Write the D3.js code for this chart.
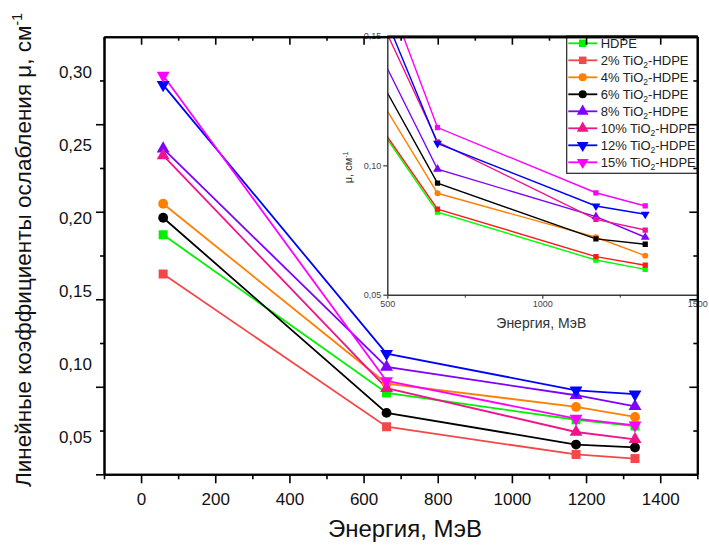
<!DOCTYPE html>
<html>
<head>
<meta charset="utf-8">
<script src="https://cdn.jsdelivr.net/npm/d3@7"></script>
<style>
  body { margin: 0; background: #fff; }
  text { font-family: "Liberation Sans", Arial, sans-serif; }
</style>
</head>
<body>
<div id="chart"></div>
<script>
// energies (keV, labelled MэВ in the figure)
const energies = [59.5, 662, 1173, 1332];
const tio2 = [0, 2, 4, 6, 8, 10, 12, 15];

// main plot values, one array per sample
const muHDPE = [0.1942, 0.0858, 0.0674, 0.0631];
const mu2 = [0.1673, 0.0626, 0.0436, 0.0408];
const mu4 = [0.2155, 0.0922, 0.0762, 0.0693];
const mu6 = [0.2059, 0.0721, 0.0504, 0.0484];
const mu8 = [0.2532, 0.1036, 0.0842, 0.0766];
const mu10 = [0.2486, 0.0890, 0.0590, 0.0540];
const mu12 = [0.2970, 0.1127, 0.0876, 0.0849];
const mu15 = [0.3034, 0.0940, 0.0682, 0.0636];

// inset values
const inHDPE = [0.1868, 0.0819, 0.0634, 0.0598];
const in2 = [0.1872, 0.0831, 0.0647, 0.0614];
const in4 = [0.2078, 0.0892, 0.0722, 0.0651];
const in6 = [0.2233, 0.0931, 0.0716, 0.0695];
const in8 = [0.2435, 0.0985, 0.0802, 0.0722];
const in10 = [0.2640, 0.1091, 0.0791, 0.0750];
const in12 = [0.2830, 0.1085, 0.0843, 0.0811];
const in15 = [0.3070, 0.1146, 0.0894, 0.0843];

const yLabels = [0.05, 0.10, 0.15, 0.20, 0.25, 0.30];

const mainVals = [muHDPE, mu2, mu4, mu6, mu8, mu10, mu12, mu15];
const insetVals = [inHDPE, in2, in4, in6, in8, in10, in12, in15];
const colors = ["#00f000", "#f44848", "#ff8000", "#000000", "#8000ff", "#f0148c", "#0000ff", "#ff00ff"];
const insetColors = ["#00ff00", "#ff1a1a", "#ff8000", "#000000", "#8000ff", "#f0148c", "#0000ff", "#ff00ff"];
const shapes = ["square", "square", "circle", "circle", "up", "up", "down", "down"];
const insetShapes = ["square", "square", "circle", "square", "up", "square", "down", "square"];

const width = 709, height = 545;
const svg = d3.select("#chart").append("svg")
    .attr("width", width).attr("height", height);

const fmt = (v) => d3.format(".2f")(v).replace(".", ",");

const symbolPath = (shape, size) => {
    if (shape === "square") return d3.symbol(d3.symbolSquare, size)();
    if (shape === "circle") return d3.symbol(d3.symbolCircle, size)();
    return d3.symbol(d3.symbolTriangle, size)();
};
const symbolRot = (shape) => shape === "down" ? " rotate(180)" : "";

// ---------- main plot ----------
const x = d3.scaleLinear().domain([-100, 1500]).range([104, 697.3]);
const y = d3.scaleLinear().domain([0.03, 0.33]).range([474.3, 36.7]);

const main = svg.append("g");

mainVals.forEach((vals, i) => {
    const pts = energies.map((e, k) => [e, vals[k]]);
    main.append("path")
        .attr("d", d3.line().x(d => x(d[0])).y(d => y(d[1]))(pts))
        .style("fill", "none")
        .style("stroke", colors[i])
        .style("stroke-width", 1.8);
});
mainVals.forEach((vals, i) => {
    main.selectAll(null)
        .data(energies.map((e, k) => [e, vals[k]]))
        .enter()
        .append("path")
        .attr("d", symbolPath(shapes[i], shapes[i] === "square" ? 81 : (shapes[i] === "circle" ? 76 : 72)))
        .attr("transform", d => "translate(" + x(d[0]) + "," + y(d[1]) + ")" + symbolRot(shapes[i]))
        .style("fill", colors[i]);
});

// ---------- inset ----------
const xi = d3.scaleLinear().domain([500, 1500]).range([387.3, 697.3]);
const yi = d3.scaleLinear().domain([0.05, 0.15]).range([294.7, 36]);

const inset = svg.append("g");
inset.append("rect")
    .attr("x", xi(500)).attr("y", yi(0.15))
    .attr("width", xi(1500) - xi(500)).attr("height", yi(0.05) - yi(0.15))
    .style("fill", "#fff");

svg.append("clipPath").attr("id", "insetClip")
    .append("rect")
    .attr("x", xi(500)).attr("y", yi(0.15))
    .attr("width", xi(1500) - xi(500)).attr("height", yi(0.05) - yi(0.15));

const insetData = inset.append("g").attr("clip-path", "url(#insetClip)");
insetVals.forEach((vals, i) => {
    const pts = energies.map((e, k) => [e, vals[k]]);
    insetData.append("path")
        .attr("d", d3.line().x(d => xi(d[0])).y(d => yi(d[1]))(pts))
        .style("fill", "none")
        .style("stroke", insetColors[i])
        .style("stroke-width", 1.4);
});
insetVals.forEach((vals, i) => {
    insetData.selectAll(null)
        .data(energies.map((e, k) => [e, vals[k]]))
        .enter()
        .append("path")
        .attr("d", symbolPath(insetShapes[i], insetShapes[i] === "up" || insetShapes[i] === "down" ? 34 : 28))
        .attr("transform", d => "translate(" + xi(d[0]) + "," + yi(d[1]) + ")" + symbolRot(insetShapes[i]))
        .style("fill", insetColors[i]);
});

// inset axes
const insetAxisColor = "#3a3a3a";
const iLeft = inset.append("g")
    .attr("transform", "translate(" + xi(500) + ",0)")
    .call(d3.axisLeft(yi).tickValues([0.05, 0.10, 0.15]).tickSize(4).tickSizeOuter(0).tickPadding(2).tickFormat(fmt));
const iBottom = inset.append("g")
    .attr("transform", "translate(0," + yi(0.05) + ")")
    .call(d3.axisBottom(xi).tickValues([500, 1000, 1500]).tickSize(4).tickSizeOuter(0).tickPadding(2).tickFormat(d3.format("d")));
inset.append("g")
    .attr("transform", "translate(0," + yi(0.05) + ")")
    .call(d3.axisBottom(xi).tickValues([750, 1250]).tickSize(3).tickFormat(""))
    .select(".domain").remove();
[iLeft, iBottom].forEach(g => {
    g.select(".domain").style("stroke", insetAxisColor).style("stroke-width", 1.5);
    g.selectAll(".tick line").style("stroke", insetAxisColor).style("stroke-width", 1.2);
    g.selectAll(".tick text").style("font-size", "9px").style("fill", "#444").style("font-family", "Liberation Sans, Arial, sans-serif");
});
inset.selectAll(".tick line").style("stroke", insetAxisColor);
inset.append("line")
    .attr("x1", xi(500)).attr("x2", xi(1500)).attr("y1", yi(0.15)).attr("y2", yi(0.15))
    .style("stroke", insetAxisColor).style("stroke-width", 1.5);

inset.append("text")
    .attr("transform", "translate(352," + ((yi(0.05) + yi(0.15)) / 2 + 2) + ") rotate(-90)")
    .attr("text-anchor", "middle")
    .style("font-size", "11px").style("fill", "#333")
    .call(t => {
        t.append("tspan").text("μ, см");
        t.append("tspan").attr("dy", -4).style("font-size", "7px").text("-1");
    });
inset.append("text")
    .attr("x", (xi(500) + xi(1500)) / 2 - 1)
    .attr("y", 328)
    .attr("text-anchor", "middle")
    .style("font-size", "14px").style("fill", "#333")
    .text("Энергия, МэВ");

// legend
const legend = inset.append("g");
legend.append("rect")
    .attr("x", 566.7).attr("y", 36).attr("width", 130.6).attr("height", 137.3)
    .style("fill", "#fff").style("stroke", "#222").style("stroke-width", 1.2);
tio2.forEach((p, i) => {
    const ly = 43.3 + i * 17;
    const row = legend.append("g").attr("transform", "translate(0," + ly + ")");
    row.append("line")
        .attr("x1", 568.3).attr("x2", 597.3)
        .style("stroke", colors[i]).style("stroke-width", 1.8);
    row.append("path")
        .attr("d", symbolPath(shapes[i], shapes[i] === "square" ? 56 : (shapes[i] === "circle" ? 52 : 60)))
        .attr("transform", "translate(582.7,0)" + symbolRot(shapes[i]))
        .style("fill", colors[i]);
    const t = row.append("text")
        .attr("x", 600.7).attr("y", 4.8)
        .style("font-size", "13px").style("fill", "#222");
    if (p === 0) {
        t.text("HDPE");
    } else {
        t.append("tspan").text(p + "% TiO");
        t.append("tspan").attr("dy", 3).style("font-size", "8.5px").text("2");
        t.append("tspan").attr("dy", -3).text("-HDPE");
    }
});

// ---------- main frame and axes (on top) ----------
const frame = svg.append("g");
const styleAxis = (g) => {
    g.select(".domain").style("stroke", "#000").style("stroke-width", 2);
    g.selectAll(".tick line").style("stroke", "#000").style("stroke-width", 1.6);
    g.selectAll(".tick text").style("font-size", "17px").style("fill", "#111")
        .style("font-family", "Liberation Sans, Arial, sans-serif");
};
const xMajor = d3.range(0, 1401, 200);
const xMinor = d3.range(-100, 1501, 200);
const yMajor = d3.range(0.03, 0.30, 0.06);
const yMinor = d3.range(0.06, 0.31, 0.06);

// bottom
frame.append("g").attr("transform", "translate(0," + y(0.03) + ")")
    .call(d3.axisBottom(x).tickValues(xMajor).tickSize(9).tickSizeOuter(0).tickPadding(10).tickFormat(d3.format("d")))
    .call(styleAxis);
frame.append("g").attr("transform", "translate(0," + y(0.03) + ")")
    .call(d3.axisBottom(x).tickValues(xMinor).tickSize(5).tickSizeOuter(0).tickFormat(""))
    .call(styleAxis);
// top (ticks inward)
frame.append("g").attr("transform", "translate(0," + y(0.33) + ")")
    .call(d3.axisTop(x).tickValues(xMajor).tickSize(-8).tickSizeOuter(0).tickFormat(""))
    .call(styleAxis);
frame.append("g").attr("transform", "translate(0," + y(0.33) + ")")
    .call(d3.axisTop(x).tickValues(xMinor).tickSize(-4).tickSizeOuter(0).tickFormat(""))
    .call(styleAxis);
// left
frame.append("g").attr("transform", "translate(" + x(-100) + ",0)")
    .call(d3.axisLeft(y).tickValues(yMajor).tickSize(8).tickSizeOuter(0).tickFormat(""))
    .call(styleAxis);
frame.append("g").attr("transform", "translate(" + x(-100) + ",0)")
    .call(d3.axisLeft(y).tickValues(yMinor).tickSize(4).tickSizeOuter(0).tickFormat(""))
    .call(styleAxis);
// right (ticks inward)
frame.append("g").attr("transform", "translate(" + x(1500) + ",0)")
    .call(d3.axisRight(y).tickValues(yMajor).tickSize(-8).tickSizeOuter(0).tickFormat(""))
    .call(styleAxis);
frame.append("g").attr("transform", "translate(" + x(1500) + ",0)")
    .call(d3.axisRight(y).tickValues(yMinor).tickSize(-4).tickSizeOuter(0).tickFormat(""))
    .call(styleAxis);

// y tick labels
frame.selectAll(".ylab")
    .data(yLabels)
    .enter()
    .append("text")
    .attr("class", "ylab")
    .attr("x", 92)
    .attr("y", d => y(d) - 8)
    .attr("dy", "0.35em")
    .attr("text-anchor", "end")
    .style("font-size", "17px").style("fill", "#111")
    .text(fmt);

// axis titles
svg.append("text")
    .attr("x", 405).attr("y", 537)
    .attr("text-anchor", "middle")
    .style("font-size", "24px").style("fill", "#111")
    .text("Энергия, МэВ");

svg.append("text")
    .attr("transform", "translate(31,250) rotate(-90)")
    .attr("text-anchor", "middle")
    .style("font-size", "22.5px").style("fill", "#111")
    .call(t => {
        t.append("tspan").text("Линейные коэффициенты ослабления μ, см");
        t.append("tspan").attr("dy", -9).style("font-size", "14px").text("-1");
    });
</script>
</body>
</html>
